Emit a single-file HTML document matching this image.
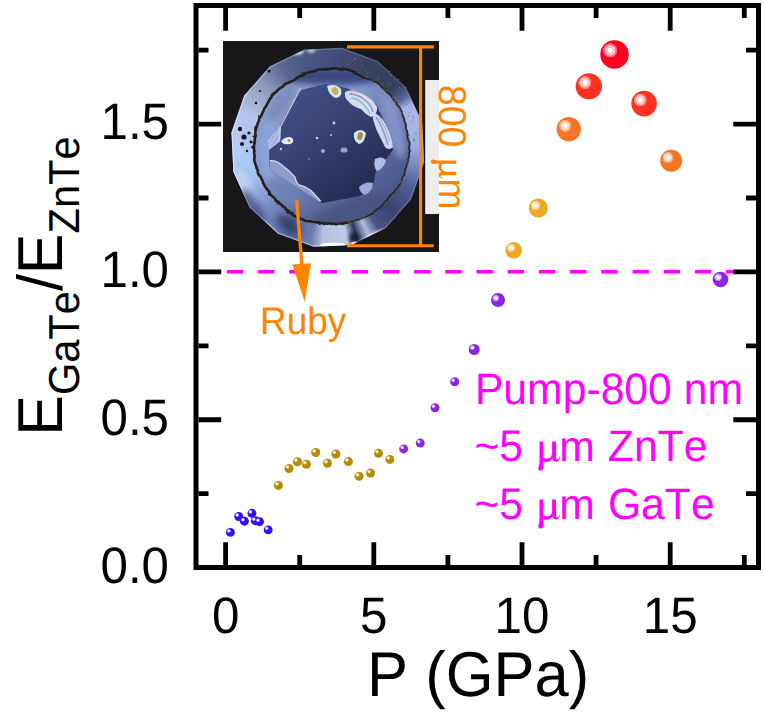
<!DOCTYPE html>
<html><head><meta charset="utf-8"><title>chart</title><style>html,body{margin:0;padding:0;background:#fff}body{width:764px;height:715px;position:relative;overflow:hidden;font-family:"Liberation Sans",sans-serif}</style>
</head><body>
<div style="position:absolute;left:223px;top:41px;width:215.5px;height:210.5px;background:#17171a;overflow:hidden">
<div style="position:absolute;left:7.42px;top:5.70px;width:194.76px;height:201.20px;clip-path:polygon(0.54% 42.70%,7.10% 24.32%,20.19% 9.86%,37.82% 1.51%,57.30% 0.54%,75.68% 7.10%,90.14% 20.19%,98.49% 37.82%,99.46% 57.30%,92.90% 75.68%,79.81% 90.14%,62.18% 98.49%,42.70% 99.46%,24.32% 92.90%,9.86% 79.81%,1.51% 62.18%);background:conic-gradient(from 0deg at 50% 50%, #455080 0deg, #384262 25deg, #363E5C 48deg, #56649A 57deg, #A2B2E8 63deg, #A8B8EC 74deg, #98ACE4 90deg, #7C8CC8 100deg, #4E5E98 115deg, #3A4270 135deg, #4A5688 148deg, #B0BCE4 155deg, #2C3458 162deg, #C0C8E8 168deg, #B8C0E0 183deg, #6C7CB0 190deg, #5468A0 205deg, #7084BC 220deg, #8CA2D8 235deg, #A4C0F0 248deg, #A8C8F4 258deg, #AEC4F0 275deg, #B4C4EA 292deg, #A0ACCC 305deg, #8490B4 318deg, #5C6890 330deg, #4A5684 345deg, #455080 360deg);"></div>
<svg width="215.5" height="210.5" viewBox="0 0 215.5 210.5" style="position:absolute;left:0;top:0">
<defs>
<filter id="b3" x="-30%" y="-30%" width="160%" height="160%"><feGaussianBlur stdDeviation="3"/></filter>
<filter id="b2" x="-30%" y="-30%" width="160%" height="160%"><feGaussianBlur stdDeviation="1.6"/></filter>
<filter id="b1" x="-30%" y="-30%" width="160%" height="160%"><feGaussianBlur stdDeviation="0.7"/></filter>
<linearGradient id="samp" gradientUnits="userSpaceOnUse" x1="60" y1="50" x2="150" y2="160"><stop offset="0" stop-color="#44528C"/><stop offset="0.45" stop-color="#35416F"/><stop offset="1" stop-color="#21264A"/></linearGradient>
<linearGradient id="inner" gradientUnits="userSpaceOnUse" x1="50" y1="45" x2="165" y2="170"><stop offset="0" stop-color="#8C9CC8"/><stop offset="0.35" stop-color="#8298CE"/><stop offset="0.7" stop-color="#5A6A9E"/><stop offset="1" stop-color="#44548A"/></linearGradient>
<linearGradient id="edgeg" gradientUnits="userSpaceOnUse" x1="0" y1="150" x2="215" y2="60"><stop offset="0" stop-color="#E6EEFF" stop-opacity="0.85"/><stop offset="0.45" stop-color="#DCE6FF" stop-opacity="0.35"/><stop offset="1" stop-color="#DCE6FF" stop-opacity="0.08"/></linearGradient>
<clipPath id="inclip"><circle cx="108.6" cy="105.6" r="77.1"/></clipPath>
<clipPath id="poly16"><polygon points="8.5,91.6 21.2,54.6 46.7,25.5 81.1,8.7 119.0,6.8 154.8,20.0 183.0,46.3 199.2,81.8 201.1,121.0 188.4,158.0 162.9,187.1 128.5,203.9 90.6,205.8 54.8,192.6 26.6,166.3 10.4,130.8"/></clipPath>
</defs>
<!-- edge highlights on outer polygon -->
<g clip-path="url(#poly16)">
<polygon points="8.5,91.6 21.2,54.6 46.7,25.5 81.1,8.7 119.0,6.8 154.8,20.0 183.0,46.3 199.2,81.8 201.1,121.0 188.4,158.0 162.9,187.1 128.5,203.9 90.6,205.8 54.8,192.6 26.6,166.3 10.4,130.8" fill="none" stroke="url(#edgeg)" stroke-width="2.4" filter="url(#b1)"/>
<ellipse cx="74" cy="11" rx="7" ry="3" fill="#E8F0FF" opacity="0.8" filter="url(#b2)"/><ellipse cx="88" cy="9.5" rx="4" ry="2.5" fill="#E8F0FF" opacity="0.7" filter="url(#b2)"/>

<ellipse cx="24" cy="150" rx="6" ry="22" fill="#DCE8FF" opacity="0.5" transform="rotate(-25 18 150)" filter="url(#b3)"/>
<ellipse cx="14" cy="100" rx="4" ry="24" fill="#D8E4FF" opacity="0.35" filter="url(#b3)"/>
<ellipse cx="110" cy="204" rx="13" ry="2.4" fill="#FFFFFF" opacity="0.95" filter="url(#b1)"/>
<ellipse cx="131" cy="197" rx="5" ry="6" fill="#10142A" opacity="0.75" filter="url(#b2)"/><ellipse cx="132" cy="202" rx="4" ry="1.6" fill="#F4F8FF" opacity="0.9" filter="url(#b1)"/>
<ellipse cx="152" cy="194" rx="11" ry="2.6" fill="#F4F8FF" opacity="0.85" transform="rotate(-24 152 194)" filter="url(#b2)"/>
<ellipse cx="66" cy="184" rx="14" ry="7" fill="#1A2040" opacity="0.55" transform="rotate(35 66 184)" filter="url(#b3)"/><ellipse cx="30" cy="166" rx="7" ry="20" fill="#34447E" opacity="0.7" transform="rotate(-32 30 166)" filter="url(#b3)"/>

</g>
<circle cx="17" cy="88" r="2.2" fill="#15151b"/><circle cx="21" cy="96" r="2.6" fill="#15151b"/><circle cx="26" cy="92" r="1.6" fill="#15151b"/><circle cx="19" cy="103" r="2.0" fill="#15151b"/><circle cx="28" cy="101" r="1.4" fill="#15151b"/><circle cx="33" cy="62" r="1.3" fill="#15151b"/><circle cx="24" cy="110" r="1.2" fill="#15151b"/><circle cx="37" cy="50" r="1.1" fill="#15151b"/><circle cx="41" cy="27.5" r="2.6" fill="#15151b"/><circle cx="46" cy="30" r="1.6" fill="#15151b"/><circle cx="179.1" cy="143.0" r="0.77" fill="#8A7448" opacity="0.8"/><circle cx="198.3" cy="85.9" r="0.72" fill="#8A7448" opacity="0.8"/><circle cx="172.3" cy="57.5" r="0.86" fill="#8A7448" opacity="0.8"/><circle cx="150.9" cy="29.6" r="0.57" fill="#8A7448" opacity="0.8"/><circle cx="183.3" cy="52.6" r="0.89" fill="#8A7448" opacity="0.8"/><circle cx="176.7" cy="46.5" r="0.55" fill="#8A7448" opacity="0.8"/><circle cx="194.1" cy="111.0" r="0.48" fill="#8A7448" opacity="0.8"/><circle cx="155.0" cy="37.4" r="0.85" fill="#8A7448" opacity="0.8"/><circle cx="191.0" cy="97.8" r="0.85" fill="#8A7448" opacity="0.8"/><circle cx="139.0" cy="186.7" r="0.47" fill="#8A7448" opacity="0.8"/><circle cx="159.1" cy="42.9" r="0.57" fill="#8A7448" opacity="0.8"/><circle cx="141.9" cy="29.5" r="0.53" fill="#8A7448" opacity="0.8"/><circle cx="202.3" cy="114.5" r="0.77" fill="#8A7448" opacity="0.8"/><circle cx="190.4" cy="78.9" r="0.66" fill="#8A7448" opacity="0.8"/><circle cx="186.3" cy="71.8" r="0.43" fill="#8A7448" opacity="0.8"/><circle cx="183.4" cy="46.3" r="0.46" fill="#8A7448" opacity="0.8"/><circle cx="198.0" cy="98.6" r="0.83" fill="#8A7448" opacity="0.8"/><circle cx="165.0" cy="43.9" r="0.52" fill="#8A7448" opacity="0.8"/><circle cx="189.9" cy="75.9" r="0.88" fill="#8A7448" opacity="0.8"/><circle cx="172.2" cy="174.6" r="0.41" fill="#8A7448" opacity="0.8"/><circle cx="131.9" cy="17.6" r="0.85" fill="#8A7448" opacity="0.8"/><circle cx="196.5" cy="91.7" r="0.40" fill="#8A7448" opacity="0.8"/><circle cx="196.9" cy="71.2" r="0.81" fill="#8A7448" opacity="0.8"/><circle cx="172.1" cy="176.9" r="0.52" fill="#8A7448" opacity="0.8"/><circle cx="144.8" cy="32.5" r="0.66" fill="#8A7448" opacity="0.8"/><circle cx="196.5" cy="141.7" r="0.76" fill="#8A7448" opacity="0.8"/><circle cx="196.5" cy="132.7" r="0.63" fill="#8A7448" opacity="0.8"/><circle cx="188.2" cy="109.4" r="0.79" fill="#8A7448" opacity="0.8"/><circle cx="175.4" cy="38.5" r="0.72" fill="#8A7448" opacity="0.8"/><circle cx="175.6" cy="59.7" r="0.53" fill="#8A7448" opacity="0.8"/><circle cx="196.2" cy="129.8" r="0.46" fill="#8A7448" opacity="0.8"/><circle cx="139.5" cy="23.3" r="0.69" fill="#8A7448" opacity="0.8"/><circle cx="185.5" cy="74.9" r="0.70" fill="#8A7448" opacity="0.8"/><circle cx="125.5" cy="23.2" r="0.63" fill="#8A7448" opacity="0.8"/><circle cx="148.3" cy="186.3" r="0.84" fill="#8A7448" opacity="0.8"/><circle cx="190.6" cy="93.0" r="0.52" fill="#8A7448" opacity="0.8"/><circle cx="148.4" cy="187.4" r="0.55" fill="#8A7448" opacity="0.8"/><circle cx="128.7" cy="20.5" r="0.74" fill="#8A7448" opacity="0.8"/><circle cx="188.3" cy="81.2" r="0.73" fill="#8A7448" opacity="0.8"/><circle cx="151.6" cy="176.5" r="0.42" fill="#8A7448" opacity="0.8"/><circle cx="183.7" cy="63.5" r="0.74" fill="#8A7448" opacity="0.8"/><circle cx="167.7" cy="34.4" r="0.77" fill="#8A7448" opacity="0.8"/><circle cx="190.9" cy="99.5" r="0.88" fill="#8A7448" opacity="0.8"/><circle cx="186.3" cy="54.7" r="0.52" fill="#8A7448" opacity="0.8"/><circle cx="171.5" cy="38.6" r="0.55" fill="#8A7448" opacity="0.8"/><circle cx="148.6" cy="183.4" r="0.49" fill="#8A7448" opacity="0.8"/><circle cx="167.9" cy="43.2" r="0.73" fill="#8A7448" opacity="0.8"/><circle cx="146.5" cy="177.8" r="0.60" fill="#8A7448" opacity="0.8"/><circle cx="172.5" cy="34.5" r="0.47" fill="#8A7448" opacity="0.8"/><circle cx="133.0" cy="29.4" r="0.60" fill="#8A7448" opacity="0.8"/><circle cx="162.9" cy="182.4" r="0.77" fill="#8A7448" opacity="0.8"/><circle cx="141.6" cy="194.5" r="0.56" fill="#8A7448" opacity="0.8"/><circle cx="166.8" cy="30.6" r="0.77" fill="#8A7448" opacity="0.8"/><circle cx="131.6" cy="18.3" r="0.59" fill="#8A7448" opacity="0.8"/><circle cx="186.0" cy="71.3" r="0.48" fill="#8A7448" opacity="0.8"/><circle cx="123.8" cy="23.2" r="0.58" fill="#8A7448" opacity="0.8"/><circle cx="145.0" cy="178.1" r="0.88" fill="#8A7448" opacity="0.8"/><circle cx="164.5" cy="41.5" r="0.81" fill="#8A7448" opacity="0.8"/><circle cx="171.4" cy="164.8" r="0.42" fill="#8A7448" opacity="0.8"/><circle cx="192.9" cy="92.3" r="0.86" fill="#8A7448" opacity="0.8"/>
<!-- inner disc -->
<circle cx="108.6" cy="105.6" r="77.6" fill="url(#inner)"/>
<g clip-path="url(#inclip)">
<ellipse cx="112" cy="35" rx="58" ry="9" fill="#36427A" opacity="0.92" filter="url(#b3)"/>
<ellipse cx="46" cy="108" rx="10" ry="30" fill="#8CA4DA" opacity="0.9" filter="url(#b3)"/>
<ellipse cx="58" cy="62" rx="7" ry="20" fill="#7888BA" opacity="0.8" transform="rotate(36 58 62)" filter="url(#b3)"/>
<ellipse cx="171" cy="84" rx="9" ry="34" fill="#8898CE" opacity="0.85" transform="rotate(-14 171 84)" filter="url(#b3)"/>
<ellipse cx="62" cy="152" rx="18" ry="9" fill="#6E82B4" opacity="0.7" transform="rotate(40 62 152)" filter="url(#b3)"/>
<ellipse cx="132" cy="170" rx="48" ry="11" fill="#48547E" opacity="0.85" transform="rotate(-18 132 170)" filter="url(#b3)"/>
</g>
<path d="M186.3 105.6 L186.2 107.8 L186.8 110.1 L186.0 112.3 L186.3 114.5 L185.8 116.7 L185.0 118.8 L185.0 121.1 L183.8 123.1 L183.7 125.3 L182.6 127.3 L182.0 129.4 L181.6 131.7 L181.4 133.9 L179.8 135.7 L179.1 137.8 L178.6 140.0 L177.9 142.2 L176.4 143.9 L175.0 145.7 L174.3 147.8 L172.0 149.0 L171.4 151.2 L169.4 152.5 L167.8 154.0 L166.3 155.6 L165.0 157.4 L164.0 159.4 L161.9 160.5 L160.8 162.5 L159.3 164.1 L157.6 165.5 L156.1 167.2 L154.1 168.3 L152.4 169.7 L150.8 171.2 L149.2 172.9 L147.1 173.8 L145.0 174.7 L143.1 175.9 L141.0 176.5 L138.8 177.1 L136.9 178.4 L134.8 178.9 L132.5 179.0 L130.4 180.0 L128.3 180.5 L126.2 181.5 L124.0 181.8 L121.8 181.8 L119.7 183.0 L117.4 182.2 L115.2 182.8 L113.0 183.3 L110.8 182.6 L108.6 182.9 L106.4 182.2 L104.2 182.7 L102.0 182.6 L99.8 182.1 L97.6 182.2 L95.5 181.3 L93.2 181.4 L91.1 181.0 L88.9 180.7 L86.7 180.2 L84.4 180.2 L82.1 179.8 L80.2 178.6 L78.0 178.1 L76.2 176.5 L73.9 176.2 L72.0 175.0 L69.9 174.1 L68.2 172.7 L66.7 170.8 L64.9 169.5 L63.0 168.4 L61.8 166.3 L59.8 165.3 L58.3 163.6 L56.7 162.2 L55.1 160.7 L52.9 159.7 L51.9 157.7 L50.3 156.1 L48.7 154.6 L46.9 153.2 L46.4 150.8 L44.8 149.2 L43.5 147.4 L42.1 145.7 L41.1 143.7 L40.0 141.8 L39.6 139.5 L38.4 137.7 L37.4 135.7 L35.9 133.9 L34.8 131.9 L34.8 129.6 L33.9 127.5 L33.1 125.4 L32.5 123.3 L31.7 121.2 L31.2 119.0 L31.4 116.7 L31.6 114.4 L31.1 112.3 L31.2 110.0 L31.1 107.8 L30.8 105.6 L31.3 103.4 L31.7 101.2 L31.8 99.0 L31.9 96.8 L32.8 94.7 L32.1 92.4 L32.5 90.2 L32.8 88.0 L33.3 85.8 L34.3 83.8 L34.9 81.7 L36.0 79.7 L36.2 77.4 L37.7 75.6 L38.7 73.7 L39.5 71.6 L40.5 69.7 L41.3 67.6 L42.7 65.8 L43.8 63.9 L44.7 61.9 L45.9 60.0 L46.8 58.0 L48.4 56.4 L49.0 54.0 L50.7 52.5 L52.7 51.3 L54.2 49.7 L55.9 48.2 L57.7 46.8 L59.7 45.8 L61.1 44.0 L62.9 42.7 L65.2 42.1 L67.0 40.9 L69.2 40.2 L71.1 39.1 L72.8 37.8 L74.7 36.7 L76.4 35.1 L78.7 34.7 L80.7 33.9 L82.3 32.0 L84.6 31.7 L86.8 31.4 L88.8 30.3 L91.1 30.4 L93.2 29.4 L95.3 28.5 L97.5 28.4 L99.7 28.3 L102.0 28.6 L104.2 28.2 L106.4 28.3 L108.6 27.4 L110.8 27.6 L113.1 27.3 L115.3 27.9 L117.5 28.2 L119.8 27.8 L122.0 28.0 L124.2 28.7 L126.3 29.4 L128.4 30.1 L130.5 31.1 L132.3 32.5 L134.5 33.1 L136.4 34.2 L138.2 35.4 L140.2 36.3 L142.4 36.9 L144.4 37.8 L146.6 38.3 L148.8 38.9 L150.5 40.5 L152.7 41.0 L154.7 42.2 L156.5 43.4 L157.9 45.3 L159.5 46.9 L161.1 48.4 L162.6 50.0 L164.2 51.6 L166.0 52.9 L167.7 54.4 L169.1 56.2 L170.1 58.2 L171.7 59.8 L173.2 61.5 L173.7 63.7 L175.6 65.2 L177.0 67.0 L177.9 69.0 L178.9 71.0 L179.5 73.2 L179.9 75.5 L181.2 77.3 L181.3 79.7 L182.3 81.6 L183.0 83.8 L182.8 86.1 L183.2 88.2 L184.3 90.3 L184.5 92.5 L184.3 94.7 L184.7 96.9 L185.2 99.0 L186.5 101.1 L186.7 103.4Z" fill="none" stroke="#2A2622" stroke-width="1.7" stroke-linejoin="round"/>
<path d="M186.3 105.6 L186.2 107.8 L186.8 110.1 L186.0 112.3 L186.3 114.5 L185.8 116.7 L185.0 118.8 L185.0 121.1 L183.8 123.1 L183.7 125.3 L182.6 127.3 L182.0 129.4 L181.6 131.7 L181.4 133.9 L179.8 135.7 L179.1 137.8 L178.6 140.0 L177.9 142.2 L176.4 143.9 L175.0 145.7 L174.3 147.8 L172.0 149.0 L171.4 151.2 L169.4 152.5 L167.8 154.0 L166.3 155.6 L165.0 157.4 L164.0 159.4 L161.9 160.5 L160.8 162.5 L159.3 164.1 L157.6 165.5 L156.1 167.2 L154.1 168.3 L152.4 169.7 L150.8 171.2 L149.2 172.9 L147.1 173.8 L145.0 174.7 L143.1 175.9 L141.0 176.5 L138.8 177.1 L136.9 178.4 L134.8 178.9 L132.5 179.0 L130.4 180.0 L128.3 180.5 L126.2 181.5 L124.0 181.8 L121.8 181.8 L119.7 183.0 L117.4 182.2 L115.2 182.8 L113.0 183.3 L110.8 182.6 L108.6 182.9 L106.4 182.2 L104.2 182.7 L102.0 182.6 L99.8 182.1 L97.6 182.2 L95.5 181.3 L93.2 181.4 L91.1 181.0 L88.9 180.7 L86.7 180.2 L84.4 180.2 L82.1 179.8 L80.2 178.6 L78.0 178.1 L76.2 176.5 L73.9 176.2 L72.0 175.0 L69.9 174.1 L68.2 172.7 L66.7 170.8 L64.9 169.5 L63.0 168.4 L61.8 166.3 L59.8 165.3 L58.3 163.6 L56.7 162.2 L55.1 160.7 L52.9 159.7 L51.9 157.7 L50.3 156.1 L48.7 154.6 L46.9 153.2 L46.4 150.8 L44.8 149.2 L43.5 147.4 L42.1 145.7 L41.1 143.7 L40.0 141.8 L39.6 139.5 L38.4 137.7 L37.4 135.7 L35.9 133.9 L34.8 131.9 L34.8 129.6 L33.9 127.5 L33.1 125.4 L32.5 123.3 L31.7 121.2 L31.2 119.0 L31.4 116.7 L31.6 114.4 L31.1 112.3 L31.2 110.0 L31.1 107.8 L30.8 105.6 L31.3 103.4 L31.7 101.2 L31.8 99.0 L31.9 96.8 L32.8 94.7 L32.1 92.4 L32.5 90.2 L32.8 88.0 L33.3 85.8 L34.3 83.8 L34.9 81.7 L36.0 79.7 L36.2 77.4 L37.7 75.6 L38.7 73.7 L39.5 71.6 L40.5 69.7 L41.3 67.6 L42.7 65.8 L43.8 63.9 L44.7 61.9 L45.9 60.0 L46.8 58.0 L48.4 56.4 L49.0 54.0 L50.7 52.5 L52.7 51.3 L54.2 49.7 L55.9 48.2 L57.7 46.8 L59.7 45.8 L61.1 44.0 L62.9 42.7 L65.2 42.1 L67.0 40.9 L69.2 40.2 L71.1 39.1 L72.8 37.8 L74.7 36.7 L76.4 35.1 L78.7 34.7 L80.7 33.9 L82.3 32.0 L84.6 31.7 L86.8 31.4 L88.8 30.3 L91.1 30.4 L93.2 29.4 L95.3 28.5 L97.5 28.4 L99.7 28.3 L102.0 28.6 L104.2 28.2 L106.4 28.3 L108.6 27.4 L110.8 27.6 L113.1 27.3 L115.3 27.9 L117.5 28.2 L119.8 27.8 L122.0 28.0 L124.2 28.7 L126.3 29.4 L128.4 30.1 L130.5 31.1 L132.3 32.5 L134.5 33.1 L136.4 34.2 L138.2 35.4 L140.2 36.3 L142.4 36.9 L144.4 37.8 L146.6 38.3 L148.8 38.9 L150.5 40.5 L152.7 41.0 L154.7 42.2 L156.5 43.4 L157.9 45.3 L159.5 46.9 L161.1 48.4 L162.6 50.0 L164.2 51.6 L166.0 52.9 L167.7 54.4 L169.1 56.2 L170.1 58.2 L171.7 59.8 L173.2 61.5 L173.7 63.7 L175.6 65.2 L177.0 67.0 L177.9 69.0 L178.9 71.0 L179.5 73.2 L179.9 75.5 L181.2 77.3 L181.3 79.7 L182.3 81.6 L183.0 83.8 L182.8 86.1 L183.2 88.2 L184.3 90.3 L184.5 92.5 L184.3 94.7 L184.7 96.9 L185.2 99.0 L186.5 101.1 L186.7 103.4Z" fill="none" stroke="#241F1C" stroke-width="2.6" stroke-linejoin="round" stroke-dasharray="302 1000" stroke-dashoffset="-107" opacity="0.9"/>
<g fill="#26221F"><circle cx="65.1" cy="171.4" r="1.48"/><circle cx="51.7" cy="52.3" r="1.09"/><circle cx="69.3" cy="172.2" r="1.47"/><circle cx="50.1" cy="53.5" r="1.44"/><circle cx="29.6" cy="106.2" r="1.34"/><circle cx="52.5" cy="159.5" r="0.86"/><circle cx="46.9" cy="154.0" r="0.83"/><circle cx="31.2" cy="110.1" r="1.42"/><circle cx="33.5" cy="127.2" r="1.13"/><circle cx="110.4" cy="27.5" r="1.43"/><circle cx="32.2" cy="88.2" r="1.07"/><circle cx="96.9" cy="182.8" r="0.76"/><circle cx="100.7" cy="184.0" r="0.76"/><circle cx="30.6" cy="95.6" r="1.10"/><circle cx="35.7" cy="134.2" r="1.10"/><circle cx="79.5" cy="33.8" r="1.10"/><circle cx="46.1" cy="151.9" r="1.30"/><circle cx="32.6" cy="86.6" r="1.28"/><circle cx="112.6" cy="27.6" r="1.15"/><circle cx="32.5" cy="87.2" r="1.22"/><circle cx="30.4" cy="101.2" r="1.03"/><circle cx="120.3" cy="27.9" r="1.39"/><circle cx="120.4" cy="28.7" r="1.10"/><circle cx="120.9" cy="27.7" r="0.72"/><circle cx="71.1" cy="174.1" r="0.67"/><circle cx="47.6" cy="153.4" r="1.20"/><circle cx="78.8" cy="32.4" r="0.74"/><circle cx="63.1" cy="41.5" r="0.73"/><circle cx="104.7" cy="26.6" r="0.80"/><circle cx="123.1" cy="28.9" r="1.04"/><circle cx="133.0" cy="30.6" r="0.75"/><circle cx="30.3" cy="106.8" r="0.91"/><circle cx="55.3" cy="162.4" r="1.25"/><circle cx="96.6" cy="183.0" r="1.00"/><circle cx="97.0" cy="182.7" r="1.16"/><circle cx="33.8" cy="85.7" r="1.49"/><circle cx="79.9" cy="31.8" r="0.69"/><circle cx="43.9" cy="148.0" r="1.30"/><circle cx="43.0" cy="147.0" r="0.98"/><circle cx="112.3" cy="26.8" r="0.83"/><circle cx="64.3" cy="171.0" r="1.11"/><circle cx="60.5" cy="44.9" r="0.65"/><circle cx="57.6" cy="46.5" r="0.67"/><circle cx="119.5" cy="27.9" r="1.32"/><circle cx="79.9" cy="179.1" r="0.66"/><circle cx="99.4" cy="28.0" r="0.91"/><circle cx="35.7" cy="74.9" r="0.84"/><circle cx="69.2" cy="173.3" r="0.81"/><circle cx="74.2" cy="175.1" r="0.65"/><circle cx="54.2" cy="161.3" r="0.87"/><circle cx="73.4" cy="36.2" r="1.05"/><circle cx="58.8" cy="165.6" r="0.62"/><circle cx="46.2" cy="151.2" r="1.26"/><circle cx="36.8" cy="75.9" r="1.03"/><circle cx="118.4" cy="28.7" r="1.34"/><circle cx="30.4" cy="106.6" r="1.35"/><circle cx="31.2" cy="117.0" r="1.22"/><circle cx="130.8" cy="30.9" r="1.35"/><circle cx="61.1" cy="43.1" r="0.96"/><circle cx="34.7" cy="128.5" r="0.72"/><circle cx="83.2" cy="180.1" r="0.83"/><circle cx="62.2" cy="167.6" r="1.36"/><circle cx="101.4" cy="27.4" r="0.85"/><circle cx="47.1" cy="153.3" r="1.01"/><circle cx="63.0" cy="169.0" r="0.84"/><circle cx="125.8" cy="28.3" r="1.09"/><circle cx="45.7" cy="153.6" r="0.88"/><circle cx="34.1" cy="126.2" r="0.94"/><circle cx="31.0" cy="95.3" r="0.78"/><circle cx="33.4" cy="87.7" r="0.84"/><circle cx="153.1" cy="41.6" r="0.42" fill="#6E5630"/><circle cx="139.9" cy="34.4" r="0.52" fill="#6E5630"/><circle cx="178.4" cy="140.6" r="0.78" fill="#6E5630"/><circle cx="169.9" cy="154.4" r="0.84" fill="#6E5630"/><circle cx="186.0" cy="97.8" r="0.89" fill="#6E5630"/><circle cx="163.7" cy="49.8" r="0.72" fill="#6E5630"/><circle cx="144.5" cy="35.7" r="0.85" fill="#6E5630"/><circle cx="174.0" cy="148.9" r="0.81" fill="#6E5630"/><circle cx="161.8" cy="48.5" r="0.65" fill="#6E5630"/><circle cx="138.3" cy="178.3" r="0.81" fill="#6E5630"/><circle cx="179.1" cy="140.5" r="0.74" fill="#6E5630"/><circle cx="164.1" cy="159.9" r="0.42" fill="#6E5630"/><circle cx="160.6" cy="47.7" r="0.45" fill="#6E5630"/><circle cx="138.0" cy="178.0" r="0.71" fill="#6E5630"/><circle cx="174.0" cy="148.6" r="0.64" fill="#6E5630"/><circle cx="136.2" cy="32.1" r="0.77" fill="#6E5630"/><circle cx="184.7" cy="123.2" r="0.73" fill="#6E5630"/><circle cx="148.9" cy="38.3" r="0.53" fill="#6E5630"/><circle cx="150.1" cy="39.9" r="0.76" fill="#6E5630"/><circle cx="171.9" cy="59.4" r="0.89" fill="#6E5630"/><circle cx="184.9" cy="121.1" r="0.64" fill="#6E5630"/><circle cx="166.2" cy="158.9" r="0.71" fill="#6E5630"/><circle cx="171.2" cy="151.2" r="0.47" fill="#6E5630"/><circle cx="177.8" cy="68.7" r="0.55" fill="#6E5630"/><circle cx="179.4" cy="136.7" r="0.43" fill="#6E5630"/><circle cx="179.2" cy="71.7" r="0.75" fill="#6E5630"/><circle cx="166.8" cy="157.1" r="0.66" fill="#6E5630"/><circle cx="186.1" cy="114.7" r="0.46" fill="#6E5630"/><circle cx="125.5" cy="181.3" r="0.89" fill="#6E5630"/><circle cx="116.0" cy="182.6" r="0.63" fill="#6E5630"/><circle cx="141.5" cy="177.1" r="0.62" fill="#6E5630"/><circle cx="178.6" cy="72.0" r="0.87" fill="#6E5630"/><circle cx="172.5" cy="60.5" r="0.47" fill="#6E5630"/><circle cx="184.1" cy="127.9" r="0.47" fill="#6E5630"/><circle cx="141.2" cy="176.5" r="0.84" fill="#6E5630"/><circle cx="162.5" cy="161.5" r="0.85" fill="#6E5630"/><circle cx="184.7" cy="119.3" r="0.40" fill="#6E5630"/><circle cx="185.1" cy="120.7" r="0.55" fill="#6E5630"/><circle cx="161.9" cy="48.9" r="0.56" fill="#6E5630"/><circle cx="136.8" cy="177.6" r="0.78" fill="#6E5630"/><circle cx="137.1" cy="177.7" r="0.86" fill="#6E5630"/><circle cx="161.6" cy="163.7" r="0.54" fill="#6E5630"/><circle cx="185.6" cy="94.0" r="0.90" fill="#6E5630"/><circle cx="177.8" cy="141.2" r="0.61" fill="#6E5630"/><circle cx="179.0" cy="73.4" r="0.45" fill="#6E5630"/><circle cx="138.1" cy="177.5" r="0.87" fill="#6E5630"/><circle cx="176.6" cy="68.1" r="0.66" fill="#6E5630"/><circle cx="169.4" cy="56.9" r="0.88" fill="#6E5630"/><circle cx="127.7" cy="181.8" r="0.72" fill="#6E5630"/><circle cx="121.3" cy="183.3" r="0.67" fill="#6E5630"/></g>
<!-- sample -->
<polygon points="76.4,49.6 102,43 124,47 153,63 164,86 170,109 153,130 150,145 137,155 100,162 97.6,161.6 46.7,129.2 46,108 44,100 57.4,84" fill="url(#samp)"/>
<!-- lighter band lower-left of sample -->
<path d="M46.7 119.7 Q53 119 57.4 123 Q66 129 71.9 135.9 Q73 141 75.3 143.7 Q82 145 87.6 149.3 Q93 155 97.6 160 L97.6 161.6 L46.7 129.2Z" fill="#8E9CC8"/>
<path d="M46.7 119.7 Q53 119 57.4 123 Q66 129 71.9 135.9 Q73 141 75.3 143.7 Q82 145 87.6 149.3 Q93 155 97.6 160" fill="none" stroke="#E4ECFF" stroke-width="1.3" stroke-opacity="0.85" filter="url(#b1)"/>
<path d="M57.4 84 L44 100 L46 109 L57 100.5Z" fill="#AFBEE6"/>
<path d="M55 88 L46 103 M57 92 L49 105" stroke="#8A78C0" stroke-width="0.7" stroke-opacity="0.6" fill="none"/>
<path d="M78 47.5 L76.4 49.6 L57.4 86 L56.8 99" fill="none" stroke="#DCE6FF" stroke-width="1.2" stroke-opacity="0.8" filter="url(#b1)"/>
<!-- fringe blobs -->
<g filter="url(#b1)">
<path d="M58 100 Q62 96 67 96 Q71 97 70 101 Q68 104 63 103 Q60 104 58 100Z" fill="#E6ECFF"/>
<circle cx="66" cy="99.5" r="1.5" fill="#C08A50"/>
<path d="M104 45 Q112 42 118 48 Q120 56 113 57 Q106 55 104 45Z" fill="#DDE6FA"/>
<ellipse cx="112" cy="50" rx="3.2" ry="4" fill="#C9B45C" transform="rotate(-30 112 50)"/>
<path d="M122 51 Q128 47 140 53 Q150 58 154 66 Q155 73 148 76 Q142 73 138 68 Q130 66 125 60 Q121 56 122 51Z" fill="#D4DCF2"/>
<path d="M126 53 Q136 53 143 60 Q149 65 150 71" fill="none" stroke="#8C62C4" stroke-opacity="0.7" stroke-width="1.5"/>
<path d="M128 57 Q136 58 141 64 Q145 68 147 73" fill="none" stroke="#4CB4B8" stroke-opacity="0.7" stroke-width="1.3"/>
<path d="M127 51 Q138 50 147 58" fill="none" stroke="#C8B868" stroke-opacity="0.7" stroke-width="1"/>
<path d="M149 72 Q157 72 163 84 Q169 96 170 106 Q166 110 162 106 Q158 98 154 90 Q150 80 149 72Z" fill="#CCD6F0"/>
<path d="M153 76 Q160 86 165 104" fill="none" stroke="#8E68C6" stroke-opacity="0.7" stroke-width="1.4"/>
<path d="M156 76 Q163 86 167 100" fill="none" stroke="#58B4B4" stroke-opacity="0.7" stroke-width="1"/>
<path d="M131 92 Q138 86 143 92 Q142 102 136 103 Q130 100 131 92Z" fill="#D8E2FA"/>
<ellipse cx="137" cy="95" rx="2.6" ry="4" fill="#B08840" transform="rotate(15 137 95)"/>
<path d="M152 118 Q160 114 163 120 Q160 128 154 130 Q150 126 152 118Z" fill="#AEBCE6"/>
<path d="M136 146 Q142 140 150 142 Q150 150 142 154 Q137 152 136 146Z" fill="#9CAADC"/>
</g>
<g fill="#C8D4F4">
<circle cx="111" cy="82" r="1.4"/><circle cx="94" cy="97" r="1.3"/><circle cx="100" cy="110" r="2" opacity="0.7"/><ellipse cx="121" cy="109" rx="3.4" ry="2.6" opacity="0.7"/>
<circle cx="58" cy="108" r="1.2"/><circle cx="108" cy="94" r="0.9"/><circle cx="86" cy="118" r="0.8" opacity="0.7"/>
</g>
<rect x="202.2" y="39" width="14" height="134" fill="#EDEDEE"/>
</svg>
</div>

<svg width="764" height="715" viewBox="0 0 764 715" style="position:absolute;left:0;top:0"><defs><radialGradient id="sb" cx="0.35" cy="0.36" r="0.255" fx="0.35" fy="0.36">
<stop offset="0" stop-color="#fff"/><stop offset="0.29" stop-color="#fff"/><stop offset="0.38" stop-color="#CBC3FE"/>
<stop offset="0.67" stop-color="#CBC3FE"/><stop offset="0.76" stop-color="#8370FD"/><stop offset="0.95" stop-color="#8370FD"/>
<stop offset="1" stop-color="#3010FC"/></radialGradient><radialGradient id="tb" cx="0.33" cy="0.33" r="0.25" fx="0.33" fy="0.33">
<stop offset="0" stop-color="#fff"/><stop offset="0.25" stop-color="#fff"/><stop offset="0.5" stop-color="#CBC3FE"/>
<stop offset="0.75" stop-color="#8370FD"/><stop offset="1" stop-color="#3010FC"/></radialGradient><radialGradient id="sg" cx="0.35" cy="0.36" r="0.255" fx="0.35" fy="0.36">
<stop offset="0" stop-color="#fff"/><stop offset="0.29" stop-color="#fff"/><stop offset="0.38" stop-color="#EDE2C0"/>
<stop offset="0.67" stop-color="#EDE2C0"/><stop offset="0.76" stop-color="#D3B968"/><stop offset="0.95" stop-color="#D3B968"/>
<stop offset="1" stop-color="#B68B04"/></radialGradient><radialGradient id="tg" cx="0.33" cy="0.33" r="0.25" fx="0.33" fy="0.33">
<stop offset="0" stop-color="#fff"/><stop offset="0.25" stop-color="#fff"/><stop offset="0.5" stop-color="#EDE2C0"/>
<stop offset="0.75" stop-color="#D3B968"/><stop offset="1" stop-color="#B68B04"/></radialGradient><radialGradient id="sp" cx="0.35" cy="0.36" r="0.255" fx="0.35" fy="0.36">
<stop offset="0" stop-color="#fff"/><stop offset="0.29" stop-color="#fff"/><stop offset="0.38" stop-color="#E2C8F9"/>
<stop offset="0.67" stop-color="#E2C8F9"/><stop offset="0.76" stop-color="#BA7CF0"/><stop offset="0.95" stop-color="#BA7CF0"/>
<stop offset="1" stop-color="#8C24E6"/></radialGradient><radialGradient id="tp" cx="0.33" cy="0.33" r="0.25" fx="0.33" fy="0.33">
<stop offset="0" stop-color="#fff"/><stop offset="0.25" stop-color="#fff"/><stop offset="0.5" stop-color="#E2C8F9"/>
<stop offset="0.75" stop-color="#BA7CF0"/><stop offset="1" stop-color="#8C24E6"/></radialGradient><radialGradient id="sy" cx="0.35" cy="0.36" r="0.255" fx="0.35" fy="0.36">
<stop offset="0" stop-color="#fff"/><stop offset="0.29" stop-color="#fff"/><stop offset="0.38" stop-color="#FBEAC7"/>
<stop offset="0.67" stop-color="#FBEAC7"/><stop offset="0.76" stop-color="#F5CB79"/><stop offset="0.95" stop-color="#F5CB79"/>
<stop offset="1" stop-color="#EFA920"/></radialGradient><radialGradient id="ty" cx="0.33" cy="0.33" r="0.25" fx="0.33" fy="0.33">
<stop offset="0" stop-color="#fff"/><stop offset="0.25" stop-color="#fff"/><stop offset="0.5" stop-color="#FBEAC7"/>
<stop offset="0.75" stop-color="#F5CB79"/><stop offset="1" stop-color="#EFA920"/></radialGradient><radialGradient id="so" cx="0.35" cy="0.36" r="0.255" fx="0.35" fy="0.36">
<stop offset="0" stop-color="#fff"/><stop offset="0.29" stop-color="#fff"/><stop offset="0.38" stop-color="#FDDCC8"/>
<stop offset="0.67" stop-color="#FDDCC8"/><stop offset="0.76" stop-color="#FAAC7A"/><stop offset="0.95" stop-color="#FAAC7A"/>
<stop offset="1" stop-color="#F67422"/></radialGradient><radialGradient id="to" cx="0.33" cy="0.33" r="0.25" fx="0.33" fy="0.33">
<stop offset="0" stop-color="#fff"/><stop offset="0.25" stop-color="#fff"/><stop offset="0.5" stop-color="#FDDCC8"/>
<stop offset="0.75" stop-color="#FAAC7A"/><stop offset="1" stop-color="#F67422"/></radialGradient><radialGradient id="sr" cx="0.35" cy="0.36" r="0.255" fx="0.35" fy="0.36">
<stop offset="0" stop-color="#fff"/><stop offset="0.29" stop-color="#fff"/><stop offset="0.38" stop-color="#FFCCC8"/>
<stop offset="0.67" stop-color="#FFCCC8"/><stop offset="0.76" stop-color="#FF847A"/><stop offset="0.95" stop-color="#FF847A"/>
<stop offset="1" stop-color="#FF3222"/></radialGradient><radialGradient id="tr" cx="0.33" cy="0.33" r="0.25" fx="0.33" fy="0.33">
<stop offset="0" stop-color="#fff"/><stop offset="0.25" stop-color="#fff"/><stop offset="0.5" stop-color="#FFCCC8"/>
<stop offset="0.75" stop-color="#FF847A"/><stop offset="1" stop-color="#FF3222"/></radialGradient><radialGradient id="sR" cx="0.35" cy="0.36" r="0.255" fx="0.35" fy="0.36">
<stop offset="0" stop-color="#fff"/><stop offset="0.29" stop-color="#fff"/><stop offset="0.38" stop-color="#FFBFC7"/>
<stop offset="0.67" stop-color="#FFBFC7"/><stop offset="0.76" stop-color="#FF6679"/><stop offset="0.95" stop-color="#FF6679"/>
<stop offset="1" stop-color="#FF0020"/></radialGradient><radialGradient id="tR" cx="0.33" cy="0.33" r="0.25" fx="0.33" fy="0.33">
<stop offset="0" stop-color="#fff"/><stop offset="0.25" stop-color="#fff"/><stop offset="0.5" stop-color="#FFBFC7"/>
<stop offset="0.75" stop-color="#FF6679"/><stop offset="1" stop-color="#FF0020"/></radialGradient></defs><line x1="226.9" y1="271.8" x2="733.5" y2="271.8" stroke="#FF00FF" stroke-width="3.6" stroke-dasharray="16.4 14.8"/><rect x="196.0" y="5.5" width="562.5" height="562.0" fill="none" stroke="#000" stroke-width="5"/><path d="M225.60 565.0v-22.7M225.60 8.0v22.7M299.70 565.0v-10.0M299.70 8.0v10.0M373.80 565.0v-22.7M373.80 8.0v22.7M447.90 565.0v-10.0M447.90 8.0v10.0M522.00 565.0v-22.7M522.00 8.0v22.7M596.10 565.0v-10.0M596.10 8.0v10.0M670.20 565.0v-22.7M670.20 8.0v22.7M744.30 565.0v-10.0M744.30 8.0v10.0M198.5 493.68h10.0M756.0 493.68h-10.0M198.5 419.76h22.7M756.0 419.76h-22.7M198.5 345.85h10.0M756.0 345.85h-10.0M198.5 271.93h22.7M756.0 271.93h-22.7M198.5 198.01h10.0M756.0 198.01h-10.0M198.5 124.10h22.7M756.0 124.10h-22.7M198.5 50.18h10.0M756.0 50.18h-10.0" stroke="#000" stroke-width="4.8" fill="none"/><circle cx="230.4" cy="532.4" r="4.45" fill="url(#tb)"/><circle cx="238.7" cy="516.5" r="4.45" fill="url(#tb)"/><circle cx="244.4" cy="521.2" r="4.45" fill="url(#tb)"/><circle cx="251.9" cy="513.3" r="4.45" fill="url(#tb)"/><circle cx="255.3" cy="520.7" r="4.45" fill="url(#tb)"/><circle cx="259.5" cy="521.7" r="4.45" fill="url(#tb)"/><circle cx="268.2" cy="529.9" r="4.45" fill="url(#tb)"/><circle cx="278.4" cy="485.4" r="4.50" fill="url(#tg)"/><circle cx="289.0" cy="468.5" r="4.50" fill="url(#tg)"/><circle cx="297.4" cy="461.7" r="4.50" fill="url(#tg)"/><circle cx="306.4" cy="464.2" r="4.50" fill="url(#tg)"/><circle cx="315.7" cy="452.5" r="4.50" fill="url(#tg)"/><circle cx="327.5" cy="463.2" r="4.50" fill="url(#tg)"/><circle cx="335.9" cy="454.0" r="4.50" fill="url(#tg)"/><circle cx="348.4" cy="461.6" r="4.50" fill="url(#tg)"/><circle cx="359.1" cy="476.3" r="4.50" fill="url(#tg)"/><circle cx="370.5" cy="473.0" r="4.50" fill="url(#tg)"/><circle cx="378.5" cy="453.2" r="4.50" fill="url(#tg)"/><circle cx="389.8" cy="459.4" r="4.50" fill="url(#tg)"/><circle cx="403.7" cy="448.9" r="4.50" fill="url(#tp)"/><circle cx="420.2" cy="443.1" r="4.50" fill="url(#tp)"/><circle cx="435.0" cy="407.8" r="4.50" fill="url(#tp)"/><circle cx="454.7" cy="381.8" r="4.50" fill="url(#tp)"/><circle cx="474.2" cy="349.5" r="5.50" fill="url(#tp)"/><circle cx="498.0" cy="300.0" r="7.00" fill="url(#sp)"/><circle cx="513.7" cy="250.3" r="8.30" fill="url(#sy)"/><circle cx="538.3" cy="208.0" r="9.50" fill="url(#sy)"/><circle cx="568.8" cy="129.1" r="12.15" fill="url(#so)"/><circle cx="588.8" cy="86.3" r="13.15" fill="url(#sr)"/><circle cx="614.5" cy="54.4" r="14.25" fill="url(#sR)"/><circle cx="644.1" cy="103.6" r="12.80" fill="url(#sr)"/><circle cx="671.2" cy="160.7" r="11.00" fill="url(#so)"/><circle cx="720.5" cy="279.5" r="7.80" fill="url(#sp)"/><g font-family="'Liberation Sans', sans-serif" style="font-kerning:none;font-variant-ligatures:none" text-rendering="geometricPrecision"><g transform="translate(169.0 582.5) scale(1 1.041)"><text x="0" y="0" font-size="49.3" fill="#000" text-anchor="end" >0.0</text></g><g transform="translate(169.0 434.66499999999996) scale(1 1.041)"><text x="0" y="0" font-size="49.3" fill="#000" text-anchor="end" >0.5</text></g><g transform="translate(169.0 286.83) scale(1 1.041)"><text x="0" y="0" font-size="49.3" fill="#000" text-anchor="end" >1.0</text></g><g transform="translate(169.0 138.99500000000003) scale(1 1.041)"><text x="0" y="0" font-size="49.3" fill="#000" text-anchor="end" >1.5</text></g><g transform="translate(225.6 632.8) scale(1 1.041)"><text x="0" y="0" font-size="49.3" fill="#000" text-anchor="middle" >0</text></g><g transform="translate(373.79999999999995 632.8) scale(1 1.041)"><text x="0" y="0" font-size="49.3" fill="#000" text-anchor="middle" >5</text></g><g transform="translate(522.0 632.8) scale(1 1.041)"><text x="0" y="0" font-size="49.3" fill="#000" text-anchor="middle" >10</text></g><g transform="translate(670.2 632.8) scale(1 1.041)"><text x="0" y="0" font-size="49.3" fill="#000" text-anchor="middle" >15</text></g><g transform="translate(367.1 696.0) scale(1 1.03)"><text x="0" y="0" font-size="61.5" fill="#000" text-anchor="start" >P (GPa)</text></g><g transform="translate(61.5 435.8) rotate(-90) scale(1 1.041)"><text font-size="61.0" x="0" y="0">E<tspan font-size="41.6" dy="16.33">GaTe</tspan><tspan dy="-16.33">/E</tspan><tspan font-size="41.6" dy="16.33">ZnTe</tspan></text></g><g transform="translate(474.9 403.5) scale(1 1.03)"><text x="0" y="0" font-size="42.7" fill="#FF00FF" text-anchor="start" >Pump-800 nm</text></g><g transform="translate(474.4 461.2) scale(1 1.041)"><text x="0" y="0" font-size="42.7" fill="#FF00FF" text-anchor="start" >~5</text></g><path transform="translate(538.1 461.2)" d="M1.4,-19.6H5.1V2C5.1,4 5.9,6 4.6,8.4C3.6,9.8 1.2,9.8 0.4,8.2C-0.4,6.4 1.2,4.5 1.4,2ZM5.1,-5C5.1,-2.9 7,-2.6 9,-2.6C11.5,-2.6 14,-4.6 14,-8V-19.6H18V-4C18,-2.2 18.6,-1.5 19.4,-1.5C20.4,-1.5 21,-3 21.3,-4.6L21.9,-4.4C21.6,-1.5 20.4,0.6 18.2,0.6C16,0.6 14.6,-0.8 14.2,-3C13,-0.5 10.8,0.7 8.6,0.7C7,0.7 5.8,0.2 5.1,-0.8Z" fill="#FF00FF"/><g transform="translate(559.2 461.2) scale(1 1.0)"><text x="0" y="0" font-size="42.7" fill="#FF00FF" text-anchor="start" >m</text></g><g transform="translate(607.8 461.2) scale(1 1.03)"><text x="0" y="0" font-size="42.7" fill="#FF00FF" text-anchor="start" >ZnTe</text></g><g transform="translate(474.4 519.0) scale(1 1.041)"><text x="0" y="0" font-size="42.7" fill="#FF00FF" text-anchor="start" >~5</text></g><path transform="translate(538.1 519.0)" d="M1.4,-19.6H5.1V2C5.1,4 5.9,6 4.6,8.4C3.6,9.8 1.2,9.8 0.4,8.2C-0.4,6.4 1.2,4.5 1.4,2ZM5.1,-5C5.1,-2.9 7,-2.6 9,-2.6C11.5,-2.6 14,-4.6 14,-8V-19.6H18V-4C18,-2.2 18.6,-1.5 19.4,-1.5C20.4,-1.5 21,-3 21.3,-4.6L21.9,-4.4C21.6,-1.5 20.4,0.6 18.2,0.6C16,0.6 14.6,-0.8 14.2,-3C13,-0.5 10.8,0.7 8.6,0.7C7,0.7 5.8,0.2 5.1,-0.8Z" fill="#FF00FF"/><g transform="translate(559.2 519.0) scale(1 1.0)"><text x="0" y="0" font-size="42.7" fill="#FF00FF" text-anchor="start" >m</text></g><g transform="translate(607.9 519.0) scale(1 1.03)"><text x="0" y="0" font-size="42.7" fill="#FF00FF" text-anchor="start" >GaTe</text></g><g transform="translate(260.0 333.5) scale(1 1.04)"><text x="0" y="0" font-size="36.9" fill="#FF8500" text-anchor="start" >Ruby</text></g><g transform="translate(439.1 0) rotate(90) scale(1 1.041)" font-size="37.3" fill="#FF8500"><text x="85.1" y="0">800</text></g><path transform="translate(439.1 159.4) rotate(90) scale(0.874)" d="M1.4,-19.6H5.1V2C5.1,4 5.9,6 4.6,8.4C3.6,9.8 1.2,9.8 0.4,8.2C-0.4,6.4 1.2,4.5 1.4,2ZM5.1,-5C5.1,-2.9 7,-2.6 9,-2.6C11.5,-2.6 14,-4.6 14,-8V-19.6H18V-4C18,-2.2 18.6,-1.5 19.4,-1.5C20.4,-1.5 21,-3 21.3,-4.6L21.9,-4.4C21.6,-1.5 20.4,0.6 18.2,0.6C16,0.6 14.6,-0.8 14.2,-3C13,-0.5 10.8,0.7 8.6,0.7C7,0.7 5.8,0.2 5.1,-0.8Z" fill="#FF8500"/><g transform="translate(439.1 0) rotate(90) scale(1 1.041)" font-size="37.3" fill="#FF8500"><text x="178.4" y="0">m</text></g></g><line x1="296.7" y1="200.2" x2="302.0" y2="266" stroke="#FF8500" stroke-width="3.3"/><polygon points="292.4,264.6 311.0,263.2 304.7,301.8" fill="#FF8500"/><path d="M347 46.9H433.8M347 245.7H433.8M420.6 46.9V245.7" stroke="#FF8500" stroke-width="3.1" fill="none"/></svg>
</body></html>
